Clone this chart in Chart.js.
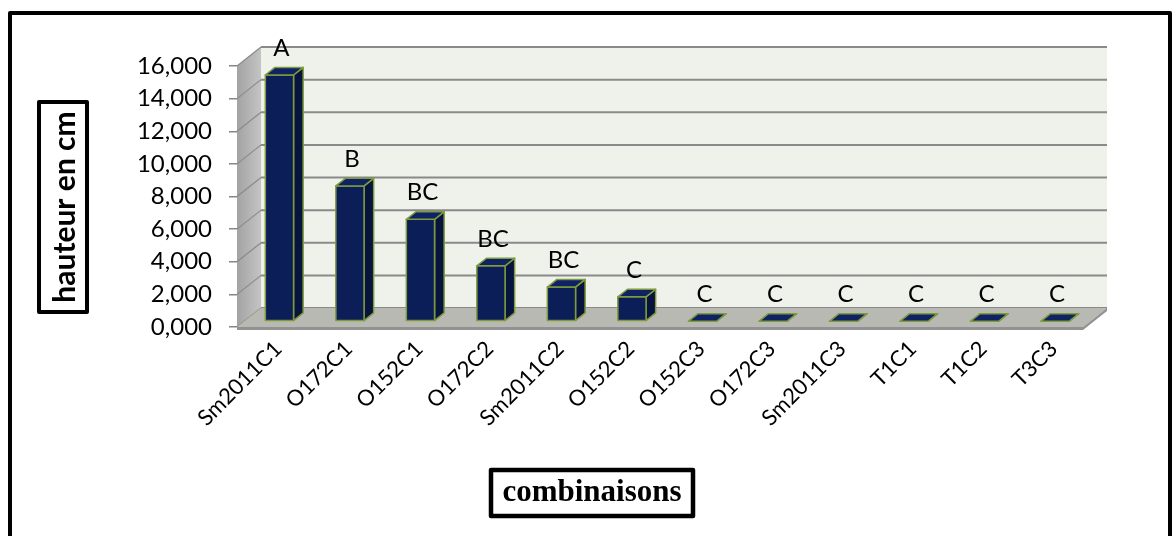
<!DOCTYPE html>
<html>
<head>
<meta charset="utf-8">
<script src="https://cdn.jsdelivr.net/npm/chart.js@4.4.1/dist/chart.umd.min.js"></script>
<style>
  html, body { margin: 0; padding: 0; background: #ffffff; }
  canvas { display: block; }
</style>
</head>
<body>
<canvas id="chart" width="1173" height="536"></canvas>
<script>
// Combinations (x axis) and mean height in cm for each
const combinaisons = ['Sm2011C1', 'O172C1', 'O152C1', 'O172C2', 'Sm2011C2', 'O152C2',
                      'O152C3', 'O172C3', 'Sm2011C3', 'T1C1', 'T1C2', 'T3C3'];
const hauteurs = [15.1, 8.3, 6.25, 3.4, 2.1, 1.5, 0, 0, 0, 0, 0, 0];
// Significance groups written above each bar
const groupes = ['A', 'B', 'BC', 'BC', 'BC', 'C', 'C', 'C', 'C', 'C', 'C', 'C'];
// Value axis
const yMin = 0, yMax = 16, yStep = 2;

const titreY = 'hauteur en cm';
const titreX = 'combinaisons';

// 3D look: depth of the box and where the bars sit inside it
const DEPTH_X = 24, DEPTH_Y = 19;
const BAR_FRONT = 0.3, BAR_DEPTH = 0.4;

const fmt = v => v.toFixed(3).replace('.', ',');

const box3d = {
  id: 'box3d',
  beforeDraw(chart) {
    const ctx = chart.ctx;
    const a = chart.chartArea;
    const y = chart.scales.y;
    ctx.save();
    ctx.fillStyle = '#ffffff';
    ctx.fillRect(0, 0, chart.width, chart.height);

    const top = y.getPixelForValue(yMax);
    const bot = y.getPixelForValue(yMin);

    // back wall
    ctx.fillStyle = '#eef2ea';
    ctx.fillRect(a.left + DEPTH_X, top - DEPTH_Y, a.right - a.left, bot - top);

    // left side wall
    const g = ctx.createLinearGradient(a.left, 0, a.left + DEPTH_X, 0);
    g.addColorStop(0, '#a3a3a3');
    g.addColorStop(1, '#c4c4c4');
    ctx.fillStyle = g;
    ctx.beginPath();
    ctx.moveTo(a.left, top);
    ctx.lineTo(a.left + DEPTH_X, top - DEPTH_Y);
    ctx.lineTo(a.left + DEPTH_X, bot - DEPTH_Y);
    ctx.lineTo(a.left, bot);
    ctx.closePath();
    ctx.fill();

    // gridlines on both walls
    ctx.strokeStyle = '#8a8a8a';
    for (let v = yMin; v <= yMax; v += yStep) {
      const py = y.getPixelForValue(v);
      ctx.lineWidth = 2;
      ctx.beginPath();
      ctx.moveTo(a.left + DEPTH_X, py - DEPTH_Y);
      ctx.lineTo(a.right + DEPTH_X, py - DEPTH_Y);
      ctx.stroke();
      ctx.lineWidth = 1.2;
      ctx.beginPath();
      ctx.moveTo(a.left, py);
      ctx.lineTo(a.left + DEPTH_X, py - DEPTH_Y);
      ctx.stroke();
    }

    // floor
    ctx.fillStyle = '#b8b9b3';
    ctx.beginPath();
    ctx.moveTo(a.left, bot);
    ctx.lineTo(a.left + DEPTH_X, bot - DEPTH_Y);
    ctx.lineTo(a.right + DEPTH_X, bot - DEPTH_Y);
    ctx.lineTo(a.right, bot);
    ctx.closePath();
    ctx.fill();
    // floor slab edges
    ctx.fillStyle = '#929292';
    ctx.fillRect(a.left, bot, a.right - a.left, 3);
    ctx.beginPath();
    ctx.moveTo(a.right, bot);
    ctx.lineTo(a.right + DEPTH_X, bot - DEPTH_Y);
    ctx.lineTo(a.right + DEPTH_X, bot - DEPTH_Y + 3);
    ctx.lineTo(a.right, bot + 3);
    ctx.closePath();
    ctx.fill();
    ctx.restore();
  },
  afterDatasetsDraw(chart) {
    const ctx = chart.ctx;
    const meta = chart.getDatasetMeta(0);
    const dx0 = DEPTH_X * BAR_FRONT, dy0 = -DEPTH_Y * BAR_FRONT;
    const sdx = DEPTH_X * BAR_DEPTH, sdy = -DEPTH_Y * BAR_DEPTH;
    ctx.save();
    ctx.lineJoin = 'round';
    ctx.strokeStyle = '#7f9a3c';
    ctx.lineWidth = 1.5;
    meta.data.forEach((bar, i) => {
      const p = bar.getProps(['x', 'y', 'base', 'width'], true);
      const x0 = p.x - p.width / 2 + dx0, x1 = p.x + p.width / 2 + dx0;
      const yt = Math.min(p.y, p.base) + dy0, yb = p.base + dy0;
      // side face
      ctx.fillStyle = '#07143f';
      ctx.beginPath();
      ctx.moveTo(x1, yt); ctx.lineTo(x1 + sdx, yt + sdy);
      ctx.lineTo(x1 + sdx, yb + sdy); ctx.lineTo(x1, yb);
      ctx.closePath(); ctx.fill(); ctx.stroke();
      // front face
      if (yb - yt > 0.5) {
        ctx.fillStyle = '#0b1e58';
        ctx.beginPath();
        ctx.rect(x0, yt, x1 - x0, yb - yt);
        ctx.fill(); ctx.stroke();
      }
      // top face
      ctx.fillStyle = '#0e2264';
      ctx.beginPath();
      ctx.moveTo(x0, yt); ctx.lineTo(x0 + sdx, yt + sdy);
      ctx.lineTo(x1 + sdx, yt + sdy); ctx.lineTo(x1, yt);
      ctx.closePath(); ctx.fill(); ctx.stroke();

      // group letter
      ctx.fillStyle = '#000000';
      ctx.font = '24px Lato';
      ctx.textAlign = 'center';
      ctx.textBaseline = 'middle';
      ctx.fillText(groupes[i], (x0 + x1) / 2 + 2, yt + sdy - 19);
    });
    ctx.restore();
  },
  afterDraw(chart) {
    const ctx = chart.ctx;
    ctx.save();
    ctx.strokeStyle = '#000000';
    ctx.lineJoin = 'round';

    // y axis title in its frame
    ctx.lineWidth = 4;
    ctx.strokeRect(39, 102, 48, 210);
    ctx.translate(64, 207);
    ctx.rotate(-Math.PI / 2);
    ctx.fillStyle = '#000000';
    ctx.font = 'bold 30px Lato';
    ctx.textAlign = 'center';
    ctx.textBaseline = 'middle';
    ctx.fillText(titreY, 0, 1);
    ctx.setTransform(1, 0, 0, 1, 0, 0);

    // x axis title in its frame
    ctx.lineWidth = 4.5;
    ctx.strokeRect(491, 470, 202, 46);
    ctx.font = 'bold 31px "Liberation Serif"';
    ctx.textAlign = 'center';
    ctx.textBaseline = 'middle';
    ctx.fillText(titreX, 592, 493);

    // outer frame
    ctx.lineWidth = 4;
    ctx.beginPath();
    ctx.moveTo(10, 545);
    ctx.lineTo(10, 13);
    ctx.lineTo(1170, 13);
    ctx.lineTo(1170, 545);
    ctx.stroke();
    ctx.restore();
  }
};

new Chart(document.getElementById('chart'), {
  type: 'bar',
  data: {
    labels: combinaisons,
    datasets: [{
      data: hauteurs,
      backgroundColor: 'rgba(0,0,0,0)',
      borderWidth: 0,
      categoryPercentage: 0.4,
      barPercentage: 1
    }]
  },
  options: {
    responsive: false,
    animation: false,
    devicePixelRatio: 1,
    layout: { padding: { left: 0, right: 90, top: 66, bottom: 0 } },
    plugins: { legend: { display: false }, tooltip: { enabled: false } },
    scales: {
      x: {
        offset: true,
        grid: { display: false },
        border: { display: false },
        ticks: {
          color: '#000000',
          font: { family: 'Lato', size: 22 },
          minRotation: 45,
          maxRotation: 45,
          autoSkip: false,
          padding: 1,
          labelOffset: 6
        },
        afterFit(s) { s.height = 209; }
      },
      y: {
        min: yMin,
        max: yMax,
        border: { display: false },
        grid: {
          color: 'rgba(0,0,0,0)',
          tickColor: '#868686',
          tickLength: 8,
          drawOnChartArea: false,
          lineWidth: 1.5
        },
        ticks: {
          stepSize: yStep,
          color: '#000000',
          font: { family: 'Lato', size: 24 },
          padding: 17,
          callback: v => fmt(v)
        },
        afterFit(s) { s.width = 237; }
      }
    }
  },
  plugins: [box3d]
});
</script>
</body>
</html>
